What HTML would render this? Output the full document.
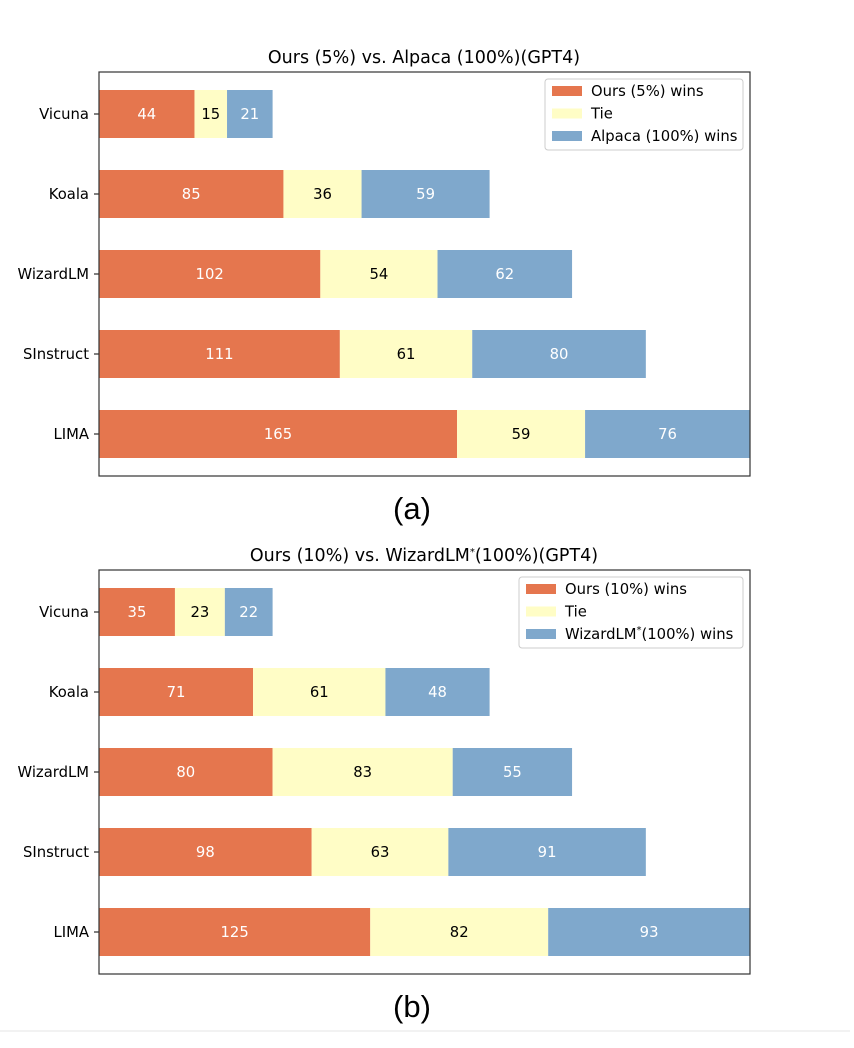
<!DOCTYPE html>
<html><head><meta charset="utf-8"><style>
body{margin:0;background:#fff;width:854px;height:1048px;overflow:hidden}
svg{display:block;font-family:"DejaVu Sans","Liberation Sans",sans-serif}
</style></head><body>
<svg id="chart" width="854" height="1048"></svg>
<script>
const categories=["Vicuna","Koala","WizardLM","SInstruct","LIMA"];
const winsA=[44,85,102,111,165];
const tieA=[15,36,54,61,59];
const lossA=[21,59,62,80,76];
const winsB=[35,71,80,98,125];
const tieB=[23,61,83,63,82];
const lossB=[22,48,55,91,93];
const NS="http://www.w3.org/2000/svg";
const svg=document.getElementById('chart');
function mk(t,a,p){const e=document.createElementNS(NS,t);for(const k in a)e.setAttribute(k,a[k]);(p||svg).appendChild(e);return e;}
const COL=["#e5764e","#fffdc6","#7fa8cc"];
function panel(top,title,wins,tie,loss,legendLabels,legX,legW,cap,nm){
  const g=mk('g',{});
  
  
  const x0=99,x1=750,axH=404;
  const maxT=Math.max(...categories.map((c,i)=>wins[i]+tie[i]+loss[i]));
  const xs=v=>x0+v*(x1-x0)/maxT;
  const yc=i=>top+42+i*80;
  const t=mk('text',{x:424,y:top-9,'text-anchor':'middle','font-size':17.5,fill:'#000'},g);t.innerHTML=title;
  
  categories.forEach((c,i)=>{
    const vals=[wins[i],tie[i],loss[i]];let acc=0;
    vals.forEach((v,k)=>{
      const r=mk('rect',{x:xs(acc),y:yc(i)-24,width:xs(acc+v)-xs(acc),height:48,fill:COL[k]},g);
      
      
      const l=mk('text',{x:(xs(acc)+xs(acc+v))/2,y:yc(i)+5,'text-anchor':'middle','font-size':14.8,fill:k==1?'#000':'#fff'},g);
      l.textContent=v;
      
      acc+=v;
    });
    mk('line',{x1:x0-5,x2:x0,y1:yc(i),y2:yc(i),stroke:'#000','stroke-width':1},g);
    const tl=mk('text',{x:x0-10,y:yc(i)+5,'text-anchor':'end','font-size':14.8,fill:'#000'},g);tl.textContent=c;
    
  });
  const f=mk('rect',{x:x0,y:top,width:x1-x0,height:axH,fill:'none',stroke:'#333','stroke-width':1.2},g);
  
  const lg=mk('g',{},g);
  
  mk('rect',{x:legX,y:top+7,width:legW,height:71,rx:3,fill:'#fff',stroke:'#ccc'},lg);
  legendLabels.forEach((s,k)=>{
    const yy=top+19+k*22.5;
    mk('rect',{x:legX+7,y:yy-5,width:30,height:10,fill:COL[k]},lg);
    const tt=mk('text',{x:legX+46,y:yy+5,'font-size':14.8,fill:'#000'},lg);tt.innerHTML=s;
    
  });
  const cp=mk('text',{x:412,y:top+447,'text-anchor':'middle','font-size':31,fill:'#000','font-family':'Liberation Sans, sans-serif'},g);cp.textContent=cap;
  
}
panel(72,"Ours (5%) vs. Alpaca (100%)(GPT4)",winsA,tieA,lossA,["Ours (5%) wins","Tie","Alpaca (100%) wins"],545,198,"(a)","panel-a");
panel(570,"Ours (10%) vs. WizardLM<tspan dy='-6' font-size='10'>*</tspan><tspan dy='6'>(100%)(GPT4)</tspan>",winsB,tieB,lossB,["Ours (10%) wins","Tie","WizardLM<tspan dy='-6' font-size='10'>*</tspan><tspan dy='6'>(100%) wins</tspan>"],519,224,"(b)","panel-b");
const sep=mk('line',{x1:0,x2:850,y1:1031,y2:1031,stroke:'#e6e6e6','stroke-width':1});

</script>
</body></html>
